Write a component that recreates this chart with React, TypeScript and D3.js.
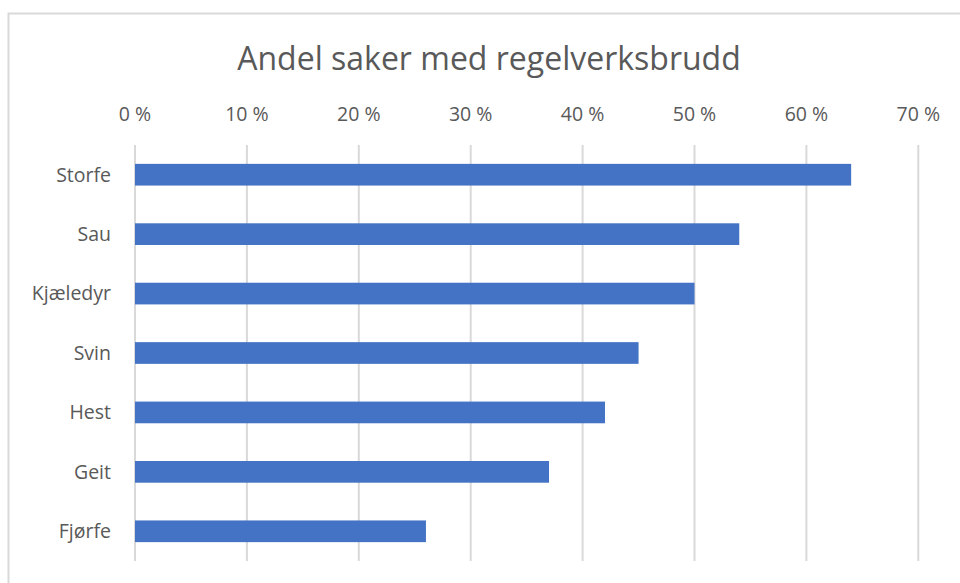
import { useEffect, useRef } from "react"
import * as d3 from "d3"

const categories = ["Storfe", "Sau", "Kjæledyr", "Svin", "Hest", "Geit", "Fjørfe"]
const shares = [64, 54, 50, 45, 42, 37, 26]
const tickValues = [0, 10, 20, 30, 40, 50, 60, 70]
const title = "Andel saker med regelverksbrudd"

const FONT = "'Open Sans', 'Noto Sans', sans-serif"

export default function App() {
    const ref = useRef<SVGSVGElement>(null)
    const width = 960
    const height = 583

    useEffect(() => {
        const svg = d3.select(ref.current)
        svg.selectAll("*").remove()

        // chart frame
        svg.append("rect")
            .attr("x", 8.5).attr("y", 13.5)
            .attr("width", 980).attr("height", 600)
            .attr("fill", "#fff")
            .attr("stroke", "#d9d9d9")
            .attr("stroke-width", 2)

        svg.append("text")
            .attr("x", 489).attr("y", 70)
            .attr("text-anchor", "middle")
            .attr("font-family", FONT)
            .attr("font-size", 32)
            .attr("fill", "#595959")
            .text(title)

        const x = d3.scaleLinear().domain([0, 70]).range([135, 918.3])
        const y = d3.scaleBand().domain(categories).range([145, 561]).paddingInner(0.635).paddingOuter(0.3175)

        // gridlines
        svg.append("g")
            .selectAll("line")
            .data(tickValues)
            .join("line")
            .attr("x1", d => x(d)).attr("x2", d => x(d))
            .attr("y1", 145).attr("y2", 561)
            .attr("stroke", "#d9d9d9")
            .attr("stroke-width", 2)

        // top axis labels
        svg.append("g")
            .selectAll("text")
            .data(tickValues)
            .join("text")
            .attr("x", d => x(d))
            .attr("y", 121)
            .attr("text-anchor", "middle")
            .attr("font-family", FONT)
            .attr("font-size", 19.5)
            .attr("fill", "#595959")
            .text(d => d + " %")

        // bars
        svg.append("g")
            .selectAll("rect")
            .data(shares)
            .join("rect")
            .attr("x", x(0))
            .attr("y", (d, i) => y(categories[i])!)
            .attr("width", d => x(d) - x(0))
            .attr("height", y.bandwidth())
            .attr("fill", "#4472c4")

        // category labels
        svg.append("g")
            .selectAll("text")
            .data(categories)
            .join("text")
            .attr("x", 111)
            .attr("y", d => y(d)! + y.bandwidth() / 2)
            .attr("dy", "0.35em")
            .attr("text-anchor", "end")
            .attr("font-family", FONT)
            .attr("font-size", 19.5)
            .attr("fill", "#595959")
            .text(d => d)
    }, [])

    return (
        <svg ref={ref} width={width} height={height}
            style={{ position: "absolute", left: 0, top: 0, display: "block" }} />
    )
}
